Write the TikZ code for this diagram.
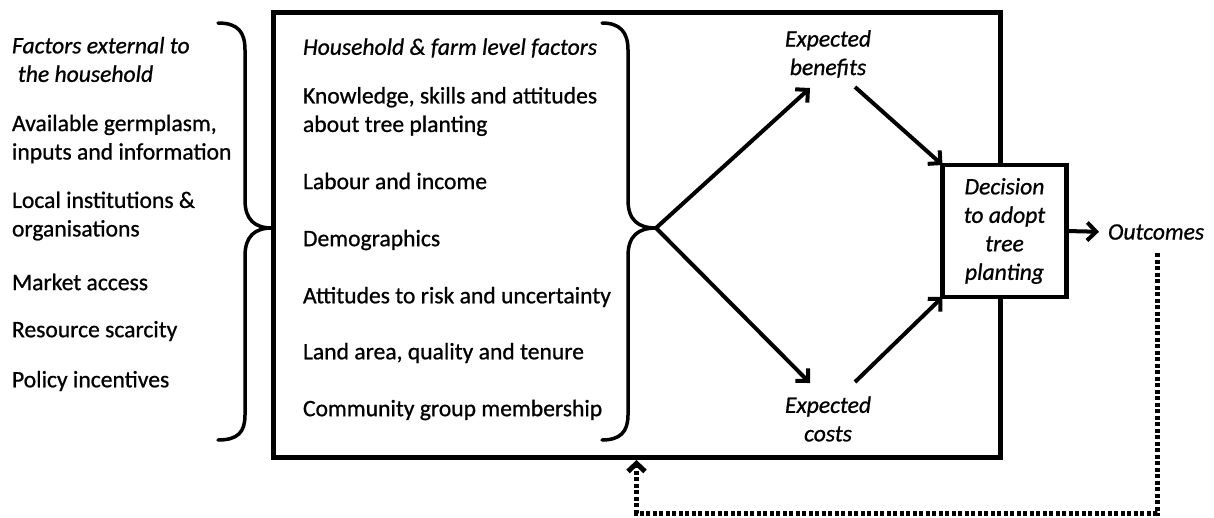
\documentclass[tikz,border=0pt]{standalone}
\usepackage{fontspec}
\setmainfont{Carlito}[FakeBold=0.8]
\usetikzlibrary{arrows.meta}
\begin{document}
\begin{tikzpicture}[x=1pt,y=-1pt,
  every node/.style={font=\fontsize{23.6}{28.5}\selectfont, inner sep=0pt, outer sep=0pt},
  item/.style={anchor=west, align=left},
  lab/.style={align=center, font=\fontsize{23.6}{28.5}\selectfont\itshape},
  brace/.style={line width=3.5pt, line cap=round},
  flow/.style={line width=4pt, -{Straight Barb[length=9pt,width=18pt]}},
  feedback/.style={line width=5pt, dash pattern=on 4pt off 2.5pt, -{Straight Barb[length=8pt,width=17pt]}}]
\useasboundingbox (0,0) rectangle (1214,517);

% outer frame: household and farm level
\node[draw, line width=5pt, minimum width=727pt, minimum height=445pt] (frame) at (636.5,234.5) {};

% external factors
\node[item, font=\fontsize{23.6}{28.5}\selectfont\itshape] (ext) at (12,59.5) {Factors external to\\\hspace{0.25em}the household};
\node[item] (germ) at (12,139) {Available germplasm,\\inputs and information};
\node[item] (inst) at (12,216) {Local institutions \&\\organisations};
\node[item] (mkt) at (12,282) {Market access};
\node[item] (res) at (12,331) {Resource scarcity};
\node[item] (pol) at (12,381) {Policy incentives};

% left brace
\coordinate (ltip) at (272,228);
\draw[brace] (218,23) .. controls (238,23) and (245,32) .. (245,50) -- (245,200)
  .. controls (245,220) and (255,228) .. (ltip)
  .. controls (255,228) and (245,236) .. (245,256) -- (245,415)
  .. controls (245,432) and (238,440) .. (218,440);

% household and farm level factors
\node[item, font=\fontsize{23.6}{28.5}\selectfont\itshape] (hh) at (303,48) {Household \& farm level factors};
\node[item] (know) at (303,111.5) {Knowledge, skills and attitudes\\about tree planting};
\node[item] (lab) at (303,181) {Labour and income};
\node[item] (demo) at (303,240) {Demographics};
\node[item] (risk) at (303,297) {Attitudes to risk and uncertainty};
\node[item] (land) at (303,353) {Land area, quality and tenure};
\node[item] (comm) at (303,410) {Community group membership};

% inner brace
\coordinate (itip) at (656,228);
\draw[brace] (602,23) .. controls (620,23) and (628,32) .. (628,50) -- (628,200)
  .. controls (628,220) and (638,228) .. (itip)
  .. controls (638,228) and (628,236) .. (628,256) -- (628,415)
  .. controls (628,432) and (620,440) .. (602,440);

% expected benefits and costs
\node[lab] (ben) at (828,54) {Expected\\benefits};
\node[lab] (cost) at (828,419) {Expected\\costs};

% decision
\node[draw, fill=white, line width=4.5pt, minimum width=124pt, minimum height=132pt, lab] (dec) at (1004.5,231) {Decision\\to adopt\\tree\\planting};
\node[lab, anchor=west] (out) at (1108,232) {Outcomes};

\coordinate (benin) at (810,88);
\coordinate (benout) at (855,87);
\coordinate (costin) at (810,383);
\coordinate (costout) at (855,382);
\coordinate (fbstart) at (1157,253);
\coordinate (fbcorner) at (1157,513);

\draw[flow] (itip) -- (benin);
\draw[flow] (itip) -- (costin);
\draw[flow] (benout) -- (dec.north west);
\draw[flow] (costout) -- (dec.south west);
\draw[flow, shorten >=9pt] (dec.east) -- (out.west);
\draw[feedback, shorten >=3pt] (fbstart) -- (fbcorner) -| (frame.south);
\end{tikzpicture}
\end{document}
